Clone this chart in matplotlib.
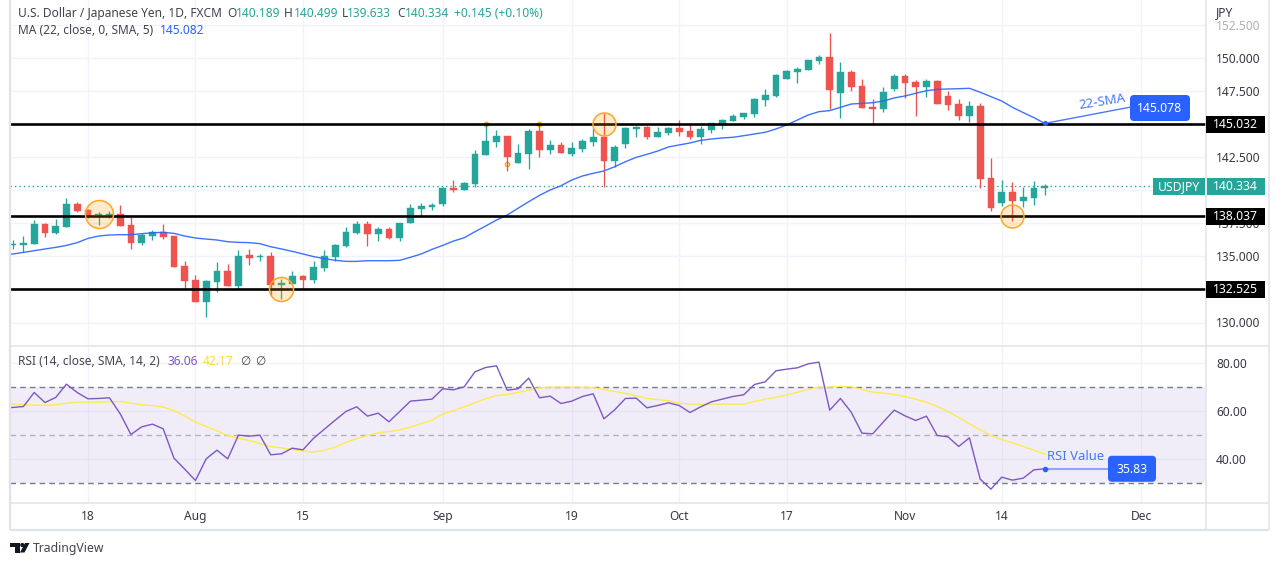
import matplotlib
matplotlib.use("Agg")
import matplotlib.pyplot as plt
from matplotlib.patches import FancyBboxPatch, Rectangle, Polygon, Circle

plt.rcParams['font.family'] = ['Noto Sans', 'DejaVu Sans']

# ---------- data ----------
opens = [135.89,135.89,135.94,137.46,136.78,137.23,138.98,138.52,138.14,138.14,
 138.22,137.38,136.02,136.55,136.85,136.55,134.28,133.22,131.55,133.07,
 133.90,132.76,135.11,134.94,135.04,132.86,132.91,133.52,133.22,134.13,
 134.96,135.79,136.78,137.46,136.70,137.08,136.40,137.54,138.60,138.72,
 138.98,140.19,140.04,140.49,142.69,143.67,144.13,142.08,142.76,144.51,
 143.07,143.45,142.76,143.14,143.67,144.05,142.23,143.52,144.66,144.81,
 144.05,144.35,144.73,144.51,144.05,144.58,145.04,145.26,145.57,145.79,
 146.85,147.16,148.45,148.98,149.13,149.81,150.11,147.38,148.98,147.91,
 146.32,146.17,147.69,148.67,148.22,147.84,148.29,147.16,146.55,145.64,
 146.40,140.95,139.05,139.88,139.20,139.43,140.189]
closes = [135.94,135.99,137.46,136.80,137.31,138.98,138.45,137.99,138.19,138.24,
 137.31,136.02,136.62,136.85,136.47,134.20,133.14,131.55,133.14,133.90,
 132.76,135.04,134.89,135.04,132.84,132.97,133.52,133.22,134.20,135.04,
 135.87,136.85,137.46,136.70,137.08,136.40,137.54,138.67,138.82,138.87,
 140.19,140.04,140.57,142.76,143.75,144.13,142.54,142.84,144.51,143.07,
 143.45,142.84,143.22,143.75,144.05,142.23,143.29,144.73,144.81,144.05,
 144.43,144.73,144.43,144.05,144.66,145.11,145.34,145.64,145.87,146.93,
 147.23,148.75,149.05,149.20,149.89,150.11,147.61,148.98,147.84,146.25,
 146.17,147.46,148.67,148.14,147.84,148.29,146.55,146.48,145.64,146.40,
 140.87,138.67,139.88,139.20,139.51,140.19,140.334]
highs = [136.25,136.55,137.76,137.51,137.84,139.43,139.13,138.60,138.37,138.45,
 138.90,137.99,136.78,137.00,137.46,136.55,134.65,133.60,133.22,134.58,
 134.43,135.49,135.57,135.19,135.34,133.29,133.90,133.60,134.65,135.49,
 135.94,137.23,137.69,137.69,137.23,137.23,137.54,138.98,139.05,139.05,
 140.27,140.79,140.64,143.07,145.04,144.58,144.13,143.52,144.66,144.96,
 143.82,143.67,143.67,143.90,144.73,145.84,143.45,144.81,144.89,144.89,
 144.81,144.81,145.34,144.96,144.89,145.11,145.42,145.79,145.87,147.01,
 147.69,148.82,149.13,149.35,149.89,150.26,151.93,149.73,149.13,148.45,
 146.93,147.84,148.82,148.82,148.37,148.45,148.37,147.54,146.93,146.78,
 146.63,142.46,140.79,140.64,140.27,140.72,140.499]
lows = [135.57,135.34,135.94,136.50,136.70,137.23,138.37,137.92,137.38,137.92,
 137.31,135.57,135.87,136.25,136.32,134.20,132.54,131.55,130.41,132.31,
 132.76,132.54,134.35,134.65,132.01,131.78,132.91,132.54,133.00,133.90,
 134.65,135.72,136.70,135.79,136.17,136.32,136.17,137.54,138.07,138.52,
 138.82,139.91,140.04,140.29,142.69,143.29,141.50,142.08,141.63,142.54,
 142.76,142.84,142.61,142.91,143.37,140.29,141.78,143.22,144.05,143.90,
 144.05,144.20,144.13,143.90,143.52,144.35,144.66,145.26,145.42,145.57,
 146.40,147.08,148.45,148.14,149.13,149.58,146.17,145.49,147.54,146.25,
 145.04,145.95,147.54,147.01,145.64,147.08,146.55,146.10,145.34,145.19,
 140.19,138.45,138.82,137.69,138.75,138.90,139.633]
# the three indicator series start one bar earlier than the visible candles (clipped at the left edge)
ma22 = [135.07,135.19,135.31,135.44,135.57,135.69,135.84,136.05,136.37,136.55,136.63,
 136.65,136.65,136.73,136.80,136.83,136.75,136.55,136.40,136.32,136.25,
 136.12,136.07,136.05,135.97,135.74,135.57,135.39,135.19,134.99,134.84,
 134.71,134.63,134.63,134.68,134.68,134.68,134.71,134.94,135.19,135.54,
 135.84,136.17,136.42,136.88,137.31,137.76,138.14,138.65,139.15,139.63,
 140.04,140.36,140.79,141.10,141.30,141.48,141.80,142.18,142.51,142.74,
 142.99,143.30,143.45,143.60,143.80,143.90,143.98,144.03,144.15,144.28,
 144.41,144.66,144.96,145.34,145.72,145.97,146.05,146.30,146.55,146.60,
 146.65,146.78,147.01,147.16,147.36,147.56,147.66,147.69,147.71,147.74,
 147.44,147.11,146.78,146.30,145.90,145.52,145.08]
rsi = [61.40,61.60,62.01,67.85,63.68,65.76,71.32,67.85,65.21,65.35,65.63,
 58.96,50.35,53.54,54.65,52.71,40.49,35.90,31.18,40.21,43.82,
 40.21,50.07,49.65,50.07,41.88,42.29,44.65,43.96,48.82,52.57,
 56.32,59.93,61.88,57.99,59.24,55.63,59.93,64.24,64.65,65.07,
 69.38,68.96,70.21,76.46,78.26,78.96,68.82,69.38,73.82,65.63,
 66.32,63.26,64.24,66.18,67.29,56.88,60.63,65.35,65.49,61.46,
 62.43,63.54,62.43,59.51,61.88,63.96,65.07,66.18,66.88,71.18,
 72.29,76.88,77.57,78.13,79.79,80.49,60.49,65.35,59.65,50.90,
 50.63,55.63,60.49,58.13,56.18,57.99,49.93,49.38,45.35,48.96,
 31.74,27.57,32.57,31.32,32.15,35.63,36.06]
rsi_sma = [63.10,62.99,62.71,62.57,62.57,62.71,63.40,63.82,63.82,63.82,63.96,
 64.10,63.40,62.71,62.43,61.74,60.35,57.99,55.49,53.68,51.88,
 49.93,48.82,47.85,46.60,45.35,44.79,44.10,43.54,42.99,43.82,
 45.07,47.01,48.68,49.93,51.04,51.60,52.29,53.40,54.93,56.32,
 58.82,60.35,61.88,63.54,65.21,66.60,67.01,67.85,68.96,69.79,
 70.07,70.07,70.07,70.07,69.93,69.10,68.26,67.43,66.46,65.35,
 64.93,64.38,63.40,62.99,62.85,62.99,62.99,62.99,62.99,64.10,
 65.07,65.90,66.74,67.99,69.10,70.07,70.07,70.35,70.21,69.10,
 67.99,67.57,67.01,66.18,65.07,63.82,62.01,59.93,57.43,54.79,
 52.29,49.93,48.26,46.88,45.35,43.82,42.17]

price_ticks = [130.0,132.5,135.0,137.5,140.0,142.5,145.0,147.5,150.0,152.5]
hidden_price_ticks = [132.5,140.0,145.0]   # covered by the price tags in the reference
rsi_ticks = [40,60,80]
rsi_bands = [30,50,70]
time_tick_pos = [7,17,27,40,52,62,72,83,92,105]
time_tick_lab = ['18','Aug','15','Sep','19','Oct','17','Nov','14','Dec']
support_levels = [145.032,138.037,132.525]
last_price = 140.334
big_circles = [(8,138.22,14.0),(25,132.56,12.0),(55,145.0,11.5),(93,138.1,11.5)]
small_dots = [(44,145.0),(49,145.0),(46,142.0)]

# ---------- colours ----------
UP = '#26a69a'; DOWN = '#ef5350'; BLUE = '#2962ff'; PURPLE = '#7e57c2'
YELLOW = '#fdea4f'; GRID = '#f0f3fa'; FRAME = '#e0e3eb'; TEXT = '#131722'
W, H = 1274, 566
L, R = 10, 1206
PANE_TOP, PANE_BOT, RSI_BOT, AX_BOT = 0, 346, 503, 530

fig = plt.figure(figsize=(W/100, H/100), dpi=100, facecolor='white')
def make_ax(top, bot):
    return fig.add_axes([L/W, 1-bot/H, (R-L)/W, (bot-top)/H])
ax = make_ax(PANE_TOP, PANE_BOT)
ar = make_ax(PANE_BOT+1, RSI_BOT)
XLIM = ((L-12.7)/10.75, (R-12.7)/10.75)
for a in (ax, ar):
    a.set_xlim(*XLIM)
    for s in a.spines.values():
        s.set_visible(False)
    a.set_xticks(time_tick_pos)
    a.tick_params(left=False, bottom=False, labelleft=False, labelbottom=False)
    a.grid(True, color=GRID, lw=1.0, zorder=0)
    a.set_axisbelow(True)
ax.set_ylim(128.22, 154.43)
ar.set_ylim(21.8, 86.8)
ax.set_yticks(price_ticks)
ar.set_yticks(rsi_ticks)

# candles
idx = list(range(len(opens)))
idx_ind = list(range(-1, len(opens)))
cols = [UP if c >= o else DOWN for o, c in zip(opens, closes)]
ax.vlines(idx, lows, highs, colors=cols, lw=0.95, zorder=3)
ax.bar(idx, [abs(c-o) for o, c in zip(opens, closes)],
       bottom=[min(o, c) for o, c in zip(opens, closes)],
       width=0.62, color=cols, edgecolor=cols, lw=0.3, zorder=3)

ax.plot(idx_ind, ma22, color=BLUE, lw=1.0, zorder=4, alpha=0.9)
ax.axhline(last_price, color=UP, lw=1, ls=(0, (1, 2.2)), zorder=2)
for lv in support_levels:
    ax.axhline(lv, color='black', lw=1.9, zorder=5)
for i, p, r in big_circles:
    ax.plot([i], [p], 'o', ms=2*r*0.72, mfc=(1, 0.6, 0, 0.2), mec='#ffa726', mew=1.1, zorder=6)
for i, p in small_dots:
    ax.plot([i], [p], 'o', ms=3.2, mfc=(1, 0.6, 0, 0.3), mec='#ffa726', mew=0.9, zorder=2)

# RSI pane
ar.axhspan(rsi_bands[0], rsi_bands[2], color=PURPLE, alpha=0.1, lw=0, zorder=1)
for b, c in zip(rsi_bands, ['#787b86', '#b0aec0', '#787b86']):
    ar.axhline(b, color=c, lw=1, ls=(0, (4, 3)), zorder=2)
ar.plot(idx_ind, rsi_sma, color=YELLOW, lw=1.0, zorder=3)
ar.plot(idx_ind, rsi, color=PURPLE, lw=1.0, zorder=4)

# overlay in pixel space
ov = fig.add_axes([0, 0, 1, 1], facecolor='none', zorder=10)
ov.set_xlim(0, W); ov.set_ylim(H, 0); ov.axis('off')

def ypx(a, v):
    return H - a.transData.transform((0, v))[1]
def xpx(a, i):
    return a.transData.transform((i, 0))[0]
def T(x, y, s, color=TEXT, size=8.6, ha='left', va='center', zorder=2, **kw):
    return ov.text(x, y+0.8, s, color=color, fontsize=size, ha=ha, va=va, zorder=zorder, **kw)

# frame
for x0, y0, x1, y1, lw in [(L-0.5, 0, L-0.5, AX_BOT, 1.6), (R, 0, R, AX_BOT, 1.1), (1269, 0, 1269, AX_BOT, 1.1),
                           (L, PANE_BOT, 1269, PANE_BOT, 1.1), (L, RSI_BOT, 1269, RSI_BOT, 1.1),
                           (L, AX_BOT, 1269, AX_BOT, 1.6)]:
    ov.plot([x0, x1], [y0, y1], color=FRAME, lw=lw, solid_capstyle='butt', zorder=1)

# price axis labels
for p in price_ticks:
    if p in hidden_price_ticks:
        continue
    c = '#a0a3ab' if p == 152.5 else TEXT
    T(1216, ypx(ax, p), f'{p:.3f}', color=c, alpha=0.85)
T(1216, 12, 'JPY', alpha=0.85)
for v in rsi_ticks:
    T(1216, ypx(ar, v), f'{v:.2f}', alpha=0.85)
for pos, lab in zip(time_tick_pos, time_tick_lab):
    T(xpx(ax, pos), 516, lab, ha='center', alpha=0.85)

# axis tags (drawn above the tick labels)
def tag(x0, x1, y, h, s, face, rounded=False, size=8.8, weight='normal'):
    if rounded:
        ov.add_patch(FancyBboxPatch((x0+3, y-h/2+3), x1-x0-6, h-6, boxstyle='round,pad=3,rounding_size=4',
                                    fc=face, ec=face, lw=0, zorder=5))
    else:
        ov.add_patch(Rectangle((x0, y-h/2), x1-x0, h, fc=face, ec='none', zorder=5))
    T((x0+x1)/2, y-0.5, s, color='white', size=size, ha='center', weight=weight, zorder=6)

for lv in support_levels:
    tag(1206, 1265, ypx(ax, lv), 17, f'{lv:.3f}', '#000000', weight='semibold')
ylast = ypx(ax, last_price)
tag(1153, 1205, ylast, 17, 'USDJPY', UP, weight='semibold')
tag(1206.5, 1265, ylast, 17, f'{last_price:.3f}', UP, weight='semibold')

# annotations
xe = xpx(ax, 96)
yma = ypx(ax, ma22[-1])
ov.plot([xe, 1131], [yma, 107], color=BLUE, lw=1.0, alpha=0.85, zorder=3)
ov.plot([xe], [yma], 'o', color=BLUE, ms=2.6, zorder=3)
tag(1130, 1190, 108, 26, '145.078', BLUE, rounded=True, weight='semibold')
T(1102, 101, '22-SMA', color=BLUE, size=9.6, ha='center', rotation=9, alpha=0.85, rotation_mode='anchor')
yr = ypx(ar, rsi[-1])
ov.plot([xe, 1109], [yr, yr], color='#8aa6ff', lw=1.5, zorder=3)
ov.plot([xe], [yr], 'o', color=BLUE, ms=3, zorder=3)
tag(1108, 1156, yr, 26, '35.83', BLUE, rounded=True, weight='semibold')
T(1047, 456, 'RSI Value', color=BLUE, size=9.4, alpha=0.85)

# legends
T(18, 13, 'U.S. Dollar / Japanese Yen, 1D, FXCM', alpha=0.8)
for lx, l, vx, v in [(227, 'O', 236, '140.189'), (284, 'H', 294, '140.499'),
                     (342, 'L', 347, '139.633'), (397, 'C', 405, '140.334')]:
    T(lx, 13, l, alpha=0.8)
    T(vx, 13, v, color=UP)
T(454, 13, '+0.145 (+0.10%)', color=UP)
T(18, 30, 'MA (22, close, 0, SMA, 5)', alpha=0.8)
T(160, 30, '145.082', color=BLUE)
T(18, 361, 'RSI (14, close, SMA, 14, 2)', alpha=0.8)
T(167, 361, '36.06', color=PURPLE)
T(203, 361, '42.17', color='#fdd835')
T(240, 361, '\u2205', alpha=0.8)
T(255, 361, '\u2205', alpha=0.8)

# footer logo + wordmark
ov.add_patch(Polygon([(10, 543), (19.5, 543), (19.5, 552.5), (15, 552.5), (15, 547), (10, 547)], fc='#131722', ec='none'))
ov.add_patch(Circle((22.3, 545), 2.1, fc='#131722', ec='none'))
ov.add_patch(Polygon([(25, 543), (29.5, 543), (24.5, 552.5), (20, 552.5)], fc='#131722', ec='none'))
T(33, 548, 'TradingView', size=8.8, alpha=0.8)

fig.savefig('out.png', dpi=100, facecolor='white')
